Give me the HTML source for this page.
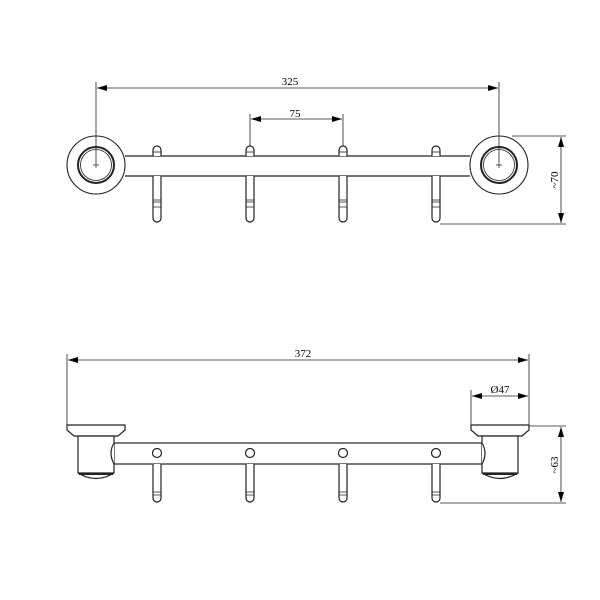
<!DOCTYPE html>
<html><head><meta charset="utf-8"><style>html,body{margin:0;padding:0;background:#fff}svg{display:block}</style></head>
<body>
<svg width="600" height="600" viewBox="0 0 600 600" xmlns="http://www.w3.org/2000/svg" font-family="Liberation Serif, serif" font-size="11">
<defs>
<marker id="a" viewBox="0 0 10 6" refX="10" refY="3" markerWidth="10" markerHeight="6" orient="auto-start-reverse" markerUnits="userSpaceOnUse"><path d="M0,0 L10,3 L0,6z" fill="#000"/></marker>
<g id="hk" fill="#fff" stroke="#222" stroke-width="1.2">
<path d="M-4,176 V218 A4,4 0 0 0 4,218 V176"/>
<path d="M-4,200 H4 M-4,207 H4 M-4,202 H4" stroke-width="0.8"/>
<path d="M-4,156 V150 A4,4 0 0 1 4,150 V156"/>
<path d="M-4,152 H4" stroke-width="0.8"/>
</g>
<g id="hk2" fill="#fff" stroke="#222" stroke-width="1.2">
<circle cx="0" cy="453" r="4.5"/>
<path d="M-4,464 V498 A4,4 0 0 0 4,498 V464"/>
<path d="M-4,492 H4 M-4,495 H4" stroke-width="0.8"/>
</g>
</defs>
<g stroke="#222" fill="none">
<circle cx="96" cy="165" r="29" stroke-width="1.1"/>
<circle cx="96" cy="165" r="18" fill="#fff" stroke-width="2"/>
<circle cx="96" cy="165" r="15.5" stroke-width="0.8"/>
<circle cx="499" cy="165" r="29" stroke-width="1.1"/>
<circle cx="499" cy="165" r="18" fill="#fff" stroke-width="2"/>
<circle cx="499" cy="165" r="15.5" stroke-width="0.8"/>
<path d="M125,156 H470 M125,176 H470" stroke-width="1.2"/>
<path d="M93,165 H99 M96,162 V168 M496,165 H502 M499,162 V168" stroke-width="0.7"/>
</g>
<use href="#hk" x="157"/><use href="#hk" x="250"/><use href="#hk" x="343"/><use href="#hk" x="436"/>
<g stroke="#222" stroke-width="0.8" fill="none">
<path d="M96,82 V162 M499,82 V162"/>
<path d="M97,88 H498" marker-start="url(#a)" marker-end="url(#a)"/>
<path d="M250,114 V146 M343,114 V146"/>
<path d="M251,119 H342" marker-start="url(#a)" marker-end="url(#a)"/>
<path d="M512,136 H566 M440,224 H566"/>
<path d="M561,137 V223" marker-start="url(#a)" marker-end="url(#a)"/>
</g>
<text x="290" y="85" text-anchor="middle">325</text>
<text x="295" y="117" text-anchor="middle">75</text>
<text transform="translate(558,180) rotate(-90)" text-anchor="middle">~70</text>
<g stroke="#222" stroke-width="1.2" fill="#fff">
<rect x="108" y="443" width="380" height="21"/>
<path d="M67,425 H125 V430 L118,436 H74 L67,430 Z"/>
<path d="M78,436 H114 V473 H78 Z"/>
<path d="M78,473 Q96,484 114,473" />
<path d="M79,474 H113" stroke-width="2"/>
<path d="M114,443 Q108,453 114,464" />
<path d="M471,425 H529 V430 L522,436 H478 L471,430 Z"/>
<path d="M482,436 H518 V473 H482 Z"/>
<path d="M482,473 Q500,484 518,473"/>
<path d="M483,474 H517" stroke-width="2"/>
<path d="M482,443 Q488,453 482,464"/>
</g>
<use href="#hk2" x="157"/><use href="#hk2" x="250"/><use href="#hk2" x="343"/><use href="#hk2" x="436"/>
<g stroke="#222" stroke-width="0.8" fill="none">
<path d="M67,354 V425 M529,354 V425 M471,390 V425"/>
<path d="M68,360 H528" marker-start="url(#a)" marker-end="url(#a)"/>
<path d="M472,396 H528" marker-start="url(#a)" marker-end="url(#a)"/>
<path d="M529,426 H566 M440,503 H566"/>
<path d="M561,427 V502" marker-start="url(#a)" marker-end="url(#a)"/>
</g>
<text x="303" y="357" text-anchor="middle">372</text>
<text x="500" y="393" text-anchor="middle">Ø47</text>
<text transform="translate(558,465) rotate(-90)" text-anchor="middle">~63</text>
</svg>
</body></html>
